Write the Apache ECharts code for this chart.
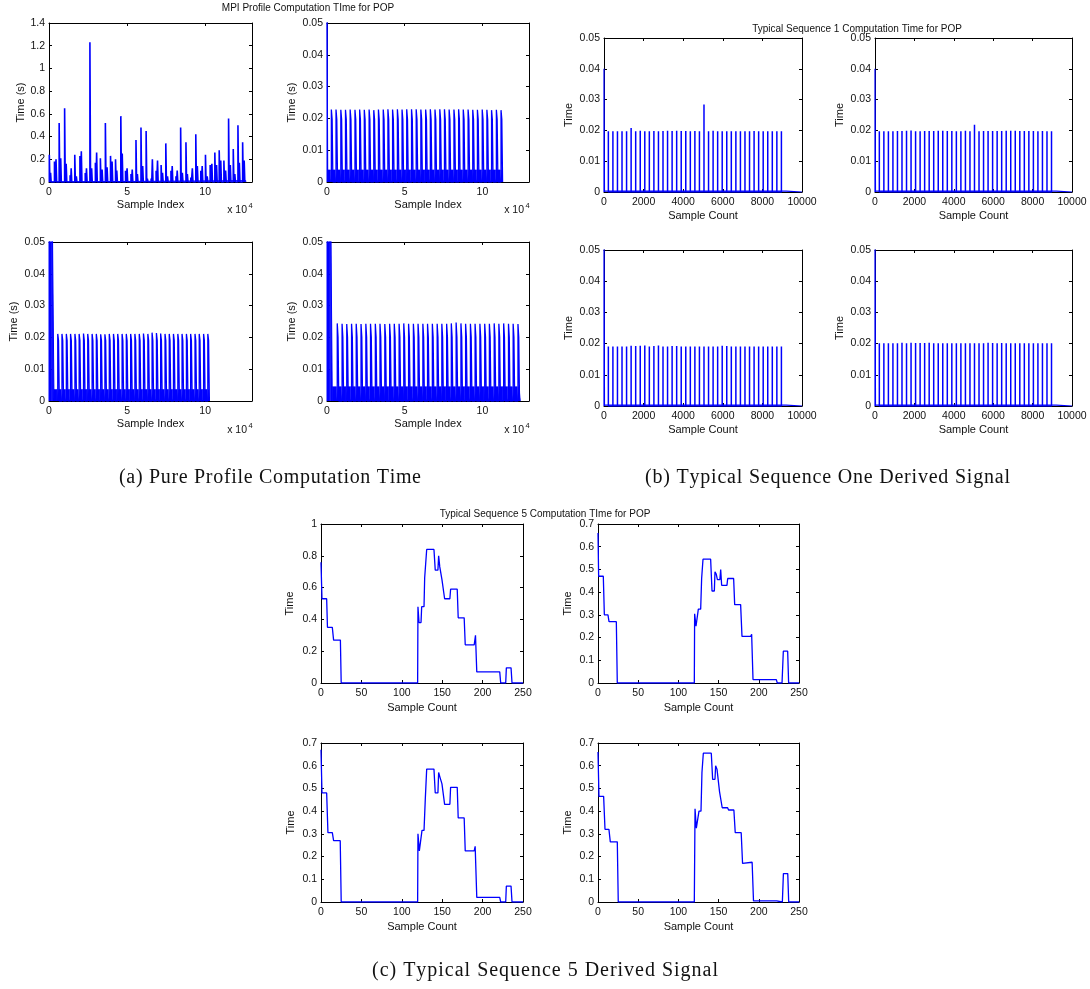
<!DOCTYPE html>
<html>
<head>
<meta charset="utf-8">
<script src="https://cdn.jsdelivr.net/npm/echarts@6/dist/echarts.min.js"></script>
<style>
  html, body { margin: 0; padding: 0; background: #fff; }
  #chart { width: 1090px; height: 989px; }
</style>
</head>
<body>
<div id="chart"></div>
<script>
// ---------- tick labels ----------
const mpiTicksX = [0, 5, 10];
const mpiTicksY = [0, 0.2, 0.4, 0.6, 0.8, 1, 1.2, 1.4];
const smallTimeTicks = [0, 0.01, 0.02, 0.03, 0.04, 0.05];
const seq1TicksX = [0, 2000, 4000, 6000, 8000, 10000];
const seq5TicksX = [0, 50, 100, 150, 200, 250];
const seq5TicksYFull = [0, 0.2, 0.4, 0.6, 0.8, 1];
const seq5TicksY = [0, 0.1, 0.2, 0.3, 0.4, 0.5, 0.6, 0.7];

// ---------- (a) MPI profile computation time, x in units of 1e4 samples ----------
// top-left: irregular spikes (s)
const mpiSpikeX = [0.02, 0.1, 0.35, 0.45, 0.65, 0.75, 1.0, 1.1, 1.35, 1.42, 1.65, 1.75, 1.98, 2.07, 2.32, 2.4,
  2.62, 2.73, 2.97, 3.05, 3.29, 3.4, 3.61, 3.72, 3.94, 4.04, 4.26, 4.34, 4.6, 4.69, 4.9, 5.0, 5.25, 5.33,
  5.57, 5.66, 5.89, 6.0, 6.22, 6.3, 6.54, 6.62, 6.86, 6.95, 7.18, 7.27, 7.48, 7.59, 7.81, 7.89, 8.13, 8.21,
  8.43, 8.54, 8.77, 8.86, 9.08, 9.18, 9.4, 9.5, 9.72, 9.81, 10.02, 10.13, 10.32, 10.43, 10.62, 10.73, 10.9,
  11.0, 11.2, 11.31, 11.5, 11.61, 11.8, 11.9, 12.1, 12.19, 12.4, 12.5];
const mpiSpikeH = [0.24, 0.08, 0.18, 0.2, 0.52, 0.21, 0.65, 0.16, 0.06, 0.12, 0.24, 0.05, 0.23, 0.27, 0.08, 0.12,
  1.23, 0.12, 0.17, 0.26, 0.21, 0.11, 0.52, 0.13, 0.23, 0.18, 0.2, 0.1, 0.58, 0.25, 0.1, 0.12, 0.07, 0.11,
  0.37, 0.07, 0.48, 0.14, 0.45, 0.03, 0.03, 0.2, 0.1, 0.19, 0.15, 0.08, 0.34, 0.05, 0.1, 0.14, 0.05, 0.1,
  0.48, 0.08, 0.35, 0.07, 0.04, 0.12, 0.42, 0.14, 0.1, 0.14, 0.24, 0.05, 0.15, 0.16, 0.26, 0.15, 0.28,
  0.19, 0.19, 0.1, 0.56, 0.15, 0.29, 0.07, 0.5, 0.17, 0.35, 0.19];
const mpiBase = { level: 0.012, end: 12.6 };

// top-right
const mpiBX = [0.28, 0.58, 0.89, 1.19, 1.49, 1.80, 2.10, 2.40, 2.71, 3.01, 3.31, 3.62, 3.92, 4.22, 4.53, 4.83,
  5.13, 5.44, 5.74, 6.04, 6.35, 6.65, 6.95, 7.26, 7.56, 7.86, 8.17, 8.47, 8.77, 9.08, 9.38, 9.68, 9.99,
  10.29, 10.59, 10.90, 11.20];
const mpiBHigh = [0.0228, 0.0228, 0.0227, 0.0227, 0.0228, 0.0227, 0.0228, 0.0227, 0.0228, 0.0226,
  0.0228, 0.0228, 0.0229, 0.0228, 0.0229, 0.0228, 0.0229, 0.0229, 0.0229, 0.0228,
  0.0228, 0.0229, 0.0228, 0.0229, 0.0229, 0.0228, 0.0228, 0.0229, 0.0228, 0.0228,
  0.0227, 0.0227, 0.0228, 0.0227, 0.0226, 0.0227, 0.0226];
const mpiBLow = 0.0197;
const mpiBBand = { level: 0.0038, start: 0.05, end: 11.33 };
const mpiBBurst = { start: [0], end: [0.05], h: [0.06] };

// bottom-left
const mpiCX = [0.56, 0.83, 1.11, 1.38, 1.66, 1.93, 2.21, 2.48, 2.76, 3.03, 3.31, 3.58, 3.86, 4.13, 4.40, 4.68,
  4.95, 5.23, 5.50, 5.78, 6.05, 6.33, 6.60, 6.88, 7.15, 7.43, 7.70, 7.97, 8.25, 8.52, 8.80, 9.07, 9.35,
  9.62, 9.90, 10.17];
const mpiCHigh = [0.0211, 0.0211, 0.0211, 0.0211, 0.0211, 0.0211, 0.0212, 0.0211, 0.0211, 0.0211,
  0.0210, 0.0210, 0.0211, 0.0211, 0.0211, 0.0211, 0.0211, 0.0211, 0.0211, 0.0211,
  0.0212, 0.0211, 0.0215, 0.0214, 0.0212, 0.0211, 0.0211, 0.0211, 0.0211, 0.0211,
  0.0211, 0.0211, 0.0211, 0.0211, 0.0211, 0.0211];
const mpiCLow = 0.019;
const mpiCBand = { level: 0.0036, start: 0.32, end: 10.3 };
const mpiCBurst = { start: [0, 0.21], end: [0.15, 0.32], h: [0.06, 0.06] };

// bottom-right
const mpiDX = [0.66, 0.97, 1.27, 1.58, 1.88, 2.19, 2.50, 2.80, 3.11, 3.41, 3.72, 4.03, 4.33, 4.64, 4.94, 5.25,
  5.56, 5.86, 6.17, 6.47, 6.78, 7.09, 7.39, 7.70, 8.00, 8.31, 8.62, 8.92, 9.23, 9.53, 9.84, 10.15, 10.45,
  10.76, 11.06, 11.37, 11.68, 11.98, 12.29];
const mpiDHigh = [0.0244, 0.0243, 0.0242, 0.0243, 0.0243, 0.0242, 0.0243, 0.0243, 0.0243, 0.0243,
  0.0242, 0.0243, 0.0243, 0.0243, 0.0244, 0.0243, 0.0243, 0.0243, 0.0243, 0.0243,
  0.0243, 0.0243, 0.0243, 0.0243, 0.0244, 0.0247, 0.0244, 0.0243, 0.0243, 0.0243,
  0.0243, 0.0243, 0.0243, 0.0244, 0.0243, 0.0244, 0.0243, 0.0243, 0.0242];
const mpiDLow = 0.0201;
const mpiDBand = { level: 0.0045, start: 0.34, end: 12.5 };
const mpiDBurst = { start: [0, 0.24], end: [0.18, 0.34], h: [0.06, 0.06] };

// ---------- (b) typical sequence 1, x in samples ----------
const seq1SpikeX = [220, 450, 680, 910, 1140, 1370, 1600, 1830, 2060, 2290, 2520, 2750, 2980, 3210, 3440,
  3670, 3900, 4130, 4360, 4590, 4820, 5050, 5280, 5510, 5740, 5970, 6200, 6430, 6660, 6890, 7120, 7350,
  7580, 7810, 8040, 8270, 8500, 8730, 8960];
const seq1AH = [0.0197, 0.0197, 0.0197, 0.0197, 0.0197, 0.0208, 0.0197, 0.0199, 0.0197, 0.0197,
  0.0198, 0.0197, 0.0198, 0.0199, 0.0198, 0.0199, 0.0198, 0.0198, 0.0197, 0.0198,
  0.0197, 0.0284, 0.0197, 0.0199, 0.0197, 0.0197, 0.0197, 0.0197, 0.0197, 0.0197,
  0.0197, 0.0197, 0.0198, 0.0197, 0.0197, 0.0197, 0.0197, 0.0197, 0.0197];
const seq1BH = [0.0197, 0.0197, 0.0197, 0.0197, 0.0198, 0.0198, 0.0199, 0.0200, 0.0197, 0.0197,
  0.0198, 0.0198, 0.0198, 0.0199, 0.0199, 0.0198, 0.0198, 0.0197, 0.0197, 0.0199,
  0.0197, 0.0218, 0.0197, 0.0198, 0.0198, 0.0198, 0.0198, 0.0198, 0.0199, 0.0199,
  0.0199, 0.0198, 0.0198, 0.0198, 0.0198, 0.0197, 0.0198, 0.0197, 0.0197];
const seq1CH = [0.0191, 0.0191, 0.0191, 0.0191, 0.0191, 0.0193, 0.0192, 0.0193, 0.0194, 0.0191,
  0.0192, 0.0194, 0.0191, 0.0191, 0.0192, 0.0192, 0.0191, 0.0191, 0.0191, 0.0191,
  0.0191, 0.0191, 0.0191, 0.0191, 0.0191, 0.0193, 0.0192, 0.0191, 0.0191, 0.0191,
  0.0191, 0.0191, 0.0191, 0.0191, 0.0191, 0.0191, 0.0191, 0.0191, 0.0191];
const seq1DH = [0.0201, 0.0201, 0.0201, 0.0201, 0.0201, 0.0203, 0.0201, 0.0203, 0.0202, 0.0202,
  0.0202, 0.0203, 0.0201, 0.0201, 0.0201, 0.0201, 0.0201, 0.0201, 0.0201, 0.0201,
  0.0201, 0.0201, 0.0201, 0.0201, 0.0203, 0.0202, 0.0201, 0.0202, 0.0201, 0.0201,
  0.0201, 0.0201, 0.0201, 0.0201, 0.0201, 0.0201, 0.0201, 0.0201, 0.0201];
const seq1LeadH = [0.04, 0.04, 0.06, 0.06];
const seq1Base = { level: 0.0003, end: 9200 };

// ---------- (c) typical sequence 5, step signals ----------
const seq5AX = [0, 1.2, 7, 8, 14, 15.6, 24, 25, 119.6, 120, 121.3, 123.8, 124.6, 127.5, 128.3, 130.8,
  139.8, 141.4, 144.7, 145.6, 147, 148.4, 149.7, 150.5, 153, 159.5, 160.4, 168.6, 169.8, 177.2, 178.5,
  189.6, 191.2, 192.8, 221.2, 222.4, 228.6, 229.4, 235.2, 236.4, 250];
const seq5AY = [0.76, 0.53, 0.53, 0.35, 0.35, 0.27, 0.27, 0, 0, 0.48, 0.38, 0.38, 0.48, 0.48, 0.66, 0.84,
  0.84, 0.71, 0.71, 0.80, 0.73, 0.73, 0.65, 0.64, 0.53, 0.53, 0.59, 0.59, 0.41, 0.41, 0.24,
  0.24, 0.30, 0.07, 0.07, 0, 0, 0.095, 0.095, 0, 0];

const seq5BX = [0, 0.8, 6.6, 7.9, 12.4, 13.7, 22.8, 24, 119.8, 120.2, 121.9, 123.6, 124.8, 127.7, 128.9, 130.6,
  140.1, 141.8, 144.7, 145.5, 147, 148.5, 151.6, 152.6, 153.8, 160.4, 161.3, 168.7, 170, 177.4, 179.1,
  189.9, 191.1, 192.8, 221.8, 223, 228.9, 230.5, 235.9, 237.1, 250];
const seq5BY = [0.66, 0.47, 0.47, 0.30, 0.30, 0.27, 0.27, 0, 0, 0.305, 0.25, 0.25, 0.325, 0.325, 0.46, 0.545,
  0.545, 0.405, 0.405, 0.49, 0.48, 0.455, 0.455, 0.50, 0.43, 0.43, 0.46, 0.46, 0.345, 0.345, 0.205,
  0.205, 0.215, 0.015, 0.015, 0, 0, 0.14, 0.14, 0, 0];

const seq5CX = [0, 1.2, 7, 8.6, 14, 15.6, 23.8, 25, 119.6, 120, 121.7, 123.8, 125, 127.5, 129.1, 130.8,
  139.8, 141.4, 144.7, 145.6, 147.2, 149.7, 153, 159.5, 160.4, 168.6, 169.8, 177.2, 178.5,
  189.6, 190.8, 192.8, 221.2, 222.4, 228.6, 229.4, 235.2, 236.4, 250];
const seq5CY = [0.67, 0.48, 0.48, 0.305, 0.305, 0.27, 0.27, 0, 0, 0.30, 0.225, 0.225, 0.315, 0.315, 0.455, 0.585,
  0.585, 0.48, 0.48, 0.57, 0.55, 0.52, 0.43, 0.43, 0.505, 0.505, 0.37, 0.37, 0.225,
  0.225, 0.245, 0.02, 0.02, 0, 0, 0.07, 0.07, 0, 0];

const seq5DX = [0, 1.2, 7, 8.7, 13.6, 15.3, 24, 25.2, 119.8, 120.7, 122.3, 124.4, 125.6, 128.1, 129.3, 131,
  140.9, 142.6, 145.5, 146.3, 148, 150, 151.2, 152.8, 154.5, 161.2, 162.4, 169, 170.7, 178.1, 179.8,
  191.7, 193.4, 222.3, 223.6, 229.3, 230.6, 236, 237.2, 250];
const seq5DY = [0.66, 0.465, 0.465, 0.32, 0.32, 0.265, 0.265, 0, 0, 0.41, 0.325, 0.325, 0.40, 0.40, 0.57, 0.655,
  0.655, 0.54, 0.54, 0.60, 0.585, 0.585, 0.485, 0.48, 0.415, 0.415, 0.405, 0.405, 0.305, 0.305, 0.17,
  0.175, 0.005, 0.005, 0, 0, 0.125, 0.125, 0, 0];

// ---------- drawing helpers ----------
const BLUE = '#0000ff';
const INK = '#111';
const SANS = '"Liberation Sans", Arial, Helvetica, sans-serif';
const SERIF = '"Liberation Serif", "Times New Roman", serif';

// vertical strokes rising from zero (optionally with a flat top of width w)
function strokes(xs, hs, w) {
  const d = [];
  xs.forEach((x, i) => {
    if (w) d.push([x, 0], [x, hs[i]], [x + w, hs[i]], [x + w, 0]);
    else d.push([x, 0], [x, hs[i]], [x, 0]);
  });
  return d;
}
// tall sample followed by a slightly lower neighbour
function pairedStrokes(xs, hs, low, step) {
  const d = [];
  xs.forEach((x, i) => {
    d.push([x, 0], [x, hs[i]], [x + step, hs[i]], [x + step, low], [x + 2 * step, low], [x + 2 * step, 0]);
  });
  return d;
}
// low-level activity band, interrupted where each periodic burst starts
function bandWithGaps(band, xs, gap) {
  const d = [];
  let from = band.start;
  xs.concat([band.end]).forEach((x) => {
    const to = Math.min(x - gap, band.end);
    if (to > from) d.push([from, 0], [from, band.level], [to, band.level], [to, 0]);
    from = x + gap;
  });
  return d;
}
function block(x0, x1, h) { return [[x0, 0], [x0, h], [x1, h], [x1, 0]]; }
function zip(xs, ys) { return xs.map((x, i) => [x, ys[i]]); }

function lineSeries(gi, data, width, fill) {
  const s = {
    type: 'line', xAxisIndex: gi * 2, yAxisIndex: gi * 2, data: data,
    showSymbol: false, symbol: 'none', clip: true, silent: true,
    lineStyle: { color: BLUE, width: width }, itemStyle: { color: BLUE }
  };
  if (fill) s.areaStyle = { color: BLUE, opacity: 1 };
  return s;
}

// ---------- panel layout ----------
const panels = [
  { box: [49, 23, 203, 159], x: [13, mpiTicksX, 'Sample Index', 17], y: [1.4, mpiTicksY, 'Time (s)', 22] },
  { box: [327, 23, 202, 159], x: [13, mpiTicksX, 'Sample Index', 17], y: [0.05, smallTimeTicks, 'Time (s)', 30] },
  { box: [49, 242, 203, 159], x: [13, mpiTicksX, 'Sample Index', 17], y: [0.05, smallTimeTicks, 'Time (s)', 30] },
  { box: [327, 242, 202, 159], x: [13, mpiTicksX, 'Sample Index', 17], y: [0.05, smallTimeTicks, 'Time (s)', 30] },
  { box: [604, 38, 198, 154], x: [10000, seq1TicksX, 'Sample Count', 18], y: [0.05, smallTimeTicks, 'Time', 30] },
  { box: [875, 38, 197, 154], x: [10000, seq1TicksX, 'Sample Count', 18], y: [0.05, smallTimeTicks, 'Time', 30] },
  { box: [604, 250, 198, 156], x: [10000, seq1TicksX, 'Sample Count', 18], y: [0.05, smallTimeTicks, 'Time', 30] },
  { box: [875, 250, 197, 156], x: [10000, seq1TicksX, 'Sample Count', 18], y: [0.05, smallTimeTicks, 'Time', 30] },
  { box: [321, 524, 202, 159], x: [250, seq5TicksX, 'Sample Count', 19], y: [1, seq5TicksYFull, 'Time', 26] },
  { box: [598, 524, 201, 159], x: [250, seq5TicksX, 'Sample Count', 19], y: [0.7, seq5TicksY, 'Time', 25] },
  { box: [321, 743, 202, 159], x: [250, seq5TicksX, 'Sample Count', 19], y: [0.7, seq5TicksY, 'Time', 25] },
  { box: [598, 743, 201, 159], x: [250, seq5TicksX, 'Sample Count', 19], y: [0.7, seq5TicksY, 'Time', 25] }
];

const grids = [], xAxes = [], yAxes = [];
const tickStyle = { show: true, inside: true, length: 3, lineStyle: { color: '#000', width: 1 } };
const lineAxis = { show: true, onZero: false, lineStyle: { color: '#000', width: 1 } };
const labelStyle = { color: INK, fontFamily: SANS, fontSize: 10.5, formatter: (v) => String(v) };

panels.forEach((p, gi) => {
  const [l, t, w, h] = p.box;
  grids.push({ left: l, top: t, width: w, height: h, containLabel: false });
  const [xmax, xt, xname, xgap] = p.x;
  const [ymax, yt, yname, ygap] = p.y;
  xAxes.push({
    type: 'value', gridIndex: gi, position: 'bottom', min: 0, max: xmax,
    axisLine: lineAxis, splitLine: { show: false },
    axisTick: Object.assign({ customValues: xt }, tickStyle),
    axisLabel: Object.assign({ customValues: xt, margin: 5 }, labelStyle),
    name: xname, nameLocation: 'middle', nameGap: xgap,
    nameTextStyle: { color: INK, fontFamily: SANS, fontSize: 11, verticalAlign: 'top' }
  }, {
    type: 'value', gridIndex: gi, position: 'top', min: 0, max: xmax,
    axisLine: lineAxis, splitLine: { show: false },
    axisTick: Object.assign({ customValues: xt }, tickStyle),
    axisLabel: { show: false }
  });
  yAxes.push({
    type: 'value', gridIndex: gi, position: 'left', min: 0, max: ymax,
    axisLine: lineAxis, splitLine: { show: false },
    axisTick: Object.assign({ customValues: yt }, tickStyle),
    axisLabel: Object.assign({ customValues: yt, margin: 4 }, labelStyle),
    name: yname, nameLocation: 'middle', nameGap: ygap, nameRotate: 90,
    nameTextStyle: { color: INK, fontFamily: SANS, fontSize: 11 }
  }, {
    type: 'value', gridIndex: gi, position: 'right', min: 0, max: ymax,
    axisLine: lineAxis, splitLine: { show: false },
    axisTick: Object.assign({ customValues: yt }, tickStyle),
    axisLabel: { show: false }
  });
});

// ---------- series ----------
const series = [];
// (a) top-left
series.push(lineSeries(0, block(0, mpiBase.end, mpiBase.level), 1, true));
series.push(lineSeries(0, strokes(mpiSpikeX, mpiSpikeH, 0.04), 1.6));
// (a) dense panels
[[1, mpiBX, mpiBHigh, mpiBLow, mpiBBand, mpiBBurst],
 [2, mpiCX, mpiCHigh, mpiCLow, mpiCBand, mpiCBurst],
 [3, mpiDX, mpiDHigh, mpiDLow, mpiDBand, mpiDBurst]].forEach(([gi, xs, hi, lo, band, burst]) => {
  series.push(lineSeries(gi, bandWithGaps(band, xs, 0.05), 0.6, true));
  burst.start.forEach((s, i) => series.push(lineSeries(gi, block(s, burst.end[i], burst.h[i]), 1, true)));
  series.push(lineSeries(gi, pairedStrokes(xs, hi, lo, 0.05), 1.3));
});
// (b)
[seq1AH, seq1BH, seq1CH, seq1DH].forEach((hs, k) => {
  const gi = 4 + k;
  series.push(lineSeries(gi, [[0, seq1Base.level], [seq1Base.end, seq1Base.level], [seq1Base.end, 0], [10000, 0]], 1.2));
  series.push(lineSeries(gi, block(0, 25, seq1LeadH[k]), 1.2));
  series.push(lineSeries(gi, strokes(seq1SpikeX, hs), 1.5));
});
// (c)
[[seq5AX, seq5AY], [seq5BX, seq5BY], [seq5CX, seq5CY], [seq5DX, seq5DY]].forEach(([xs, ys], k) => {
  series.push(lineSeries(8 + k, zip(xs, ys), 1.3));
});

// ---------- text ----------
function txt(x, y, text, font, align) {
  return {
    type: 'text', x: x, y: y, silent: true,
    style: { text: text, font: font, fill: INK, align: align || 'center', verticalAlign: 'middle',
             textAlign: align || 'center', textVerticalAlign: 'middle' }
  };
}
// caption letter-spaced evenly between two x positions
const measureCtx = document.createElement('canvas').getContext('2d');
function spread(x0, x1, y, text, font) {
  measureCtx.font = font;
  const chars = Array.from(text);
  const widths = chars.map((c) => measureCtx.measureText(c).width);
  const extra = (x1 - x0 - widths.reduce((a, b) => a + b, 0)) / (chars.length - 1);
  let x = x0;
  const out = [];
  chars.forEach((c, i) => {
    if (c !== ' ') out.push(txt(x, y, c, font, 'left'));
    x += widths[i] + extra;
  });
  return out;
}

const CAPTION_FONT = '20px ' + SERIF;
const graphics = [
  txt(308, 8, 'MPI Profile Computation TIme for POP', '10px ' + SANS),
  txt(857, 29, 'Typical Sequence 1 Computation Time for POP', '10px ' + SANS),
  txt(545, 514, 'Typical Sequence 5 Computation TIme for POP', '10px ' + SANS)
].concat(
  spread(119, 421, 478, '(a) Pure Profile Computation Time', CAPTION_FONT),
  spread(645, 1010, 478, '(b) Typical Sequence One Derived Signal', CAPTION_FONT),
  spread(372, 718, 971, '(c) Typical Sequence 5 Derived Signal', CAPTION_FONT)
);
// x 10^4 exponent markers under the sample-index axes
[[247, 210], [524, 210], [247, 430], [524, 430]].forEach(([x, y]) => {
  graphics.push(txt(x, y, 'x 10', '10.5px ' + SANS, 'right'));
  graphics.push(txt(x + 1.5, y - 4, '4', '7.5px ' + SANS, 'left'));
});

const chart = echarts.init(document.getElementById('chart'), null, { renderer: 'canvas' });
chart.setOption({
  animation: false,
  backgroundColor: '#fff',
  grid: grids,
  xAxis: xAxes,
  yAxis: yAxes,
  series: series,
  graphic: graphics
});
</script>
</body>
</html>
